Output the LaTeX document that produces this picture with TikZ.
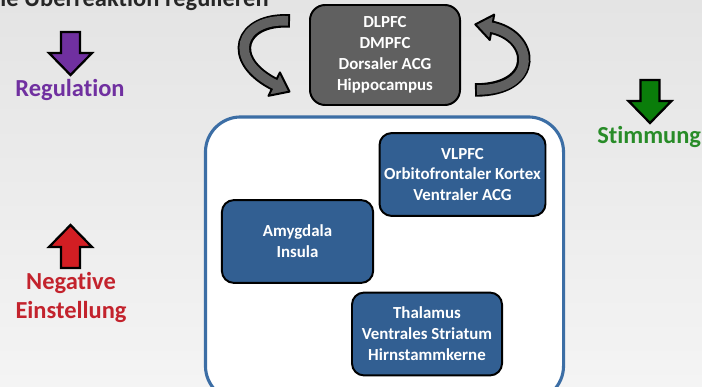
\documentclass[tikz,border=0pt]{standalone}
\usepackage{fontspec}
\setmainfont{Carlito}[Ligatures=NoCommon]
\usetikzlibrary{positioning}
\definecolor{bggrey}{RGB}{228,228,228}
\definecolor{bglight}{RGB}{244,244,244}
\definecolor{boxgrey}{RGB}{96,96,96}
\definecolor{boxblue}{RGB}{50,95,146}
\definecolor{frameblue}{RGB}{60,110,165}
\definecolor{regpurple}{RGB}{112,48,160}
\definecolor{moodgreen}{RGB}{40,140,40}
\definecolor{arrowgreen}{RGB}{10,125,10}
\definecolor{negred}{RGB}{195,35,45}
\definecolor{arrowred}{RGB}{210,30,35}
\tikzstyle{cortex} = [rectangle, rounded corners=0.38cm, minimum width=3.75cm, minimum height=2.5cm, align=center, draw=black, line width=1.4pt, fill=boxgrey, text=white, font=\bfseries\fontsize{12}{14.9}\selectfont]
\tikzstyle{region} = [rectangle, rounded corners=0.3cm, minimum width=3.75cm, minimum height=2.07cm, align=center, draw=black, line width=1.4pt, fill=boxblue, text=white, font=\bfseries\fontsize{12}{14.9}\selectfont]
\tikzstyle{frame} = [rectangle, rounded corners=0.88cm, draw=frameblue, line width=2.2pt, fill=white]
\tikzstyle{label} = [align=center, font=\bfseries\fontsize{17.4}{20.6}\selectfont, inner sep=0pt]
\tikzstyle{bandout} = [line width=9.6pt, draw=black]
\tikzstyle{bandin} = [line width=6.8pt, draw=boxgrey, shorten <=1.4pt]
\tikzstyle{bandhead} = [fill=boxgrey, draw=black, line width=1.4pt, line join=round]
\tikzstyle{blockarrow} = [draw=black, line width=1.6pt, line join=miter]
\tikzset{
  downarrow/.pic={\path[pic actions] (0,0) -- (-21.5,-22) -- (-9.5,-22) -- (-9.5,-43) -- (9.5,-43) -- (9.5,-22) -- (21.5,-22) -- cycle;}
}

\begin{document}
\begin{tikzpicture}[x=0.025cm, y=-0.025cm]

        % Hintergrund
        \useasboundingbox (0,0) rectangle (702,387);
        \clip (0,0) rectangle (702,387);
        \shade[top color=bggrey, bottom color=bglight] (0,0) rectangle (702,387);

        % Ueberschrift (oben abgeschnitten)
        \node (title) [anchor=base west, inner sep=0pt, text=black!85, font=\bfseries\fontsize{17.4}{20}\selectfont] at (0,7) {ie Überreaktion regulieren};

        % Kasten oben
        \node (cortex) [cortex] at (385,55) {DLPFC\\DMPFC\\Dorsaler ACG\\Hippocampus};

        % grosser Rahmen und Regionen
        \node (frame) [frame, minimum width=8.95cm, minimum height=7.1cm] at (384.5,259) {};
        \node (vlpfc) [region, minimum width=4.08cm] at (462.5,174.5) {VLPFC\\Orbitofrontaler Kortex\\Ventraler ACG};
        \node (amygdala) [region, minimum width=3.78cm] at (297.5,241.5) {Amygdala\\Insula};
        \node (thalamus) [region, minimum width=3.75cm] at (427,334) {Thalamus\\Ventrales Striatum\\Hirnstammkerne};

        % gebogene Pfeile links und rechts vom Kasten
        \draw [bandout] (290,21) .. controls (240,18) and (225,60) .. (276,85);
        \path [bandhead] (279.9,72.4) -- (289.5,91.6) -- (268.5,95.8) -- cycle;
        \draw [bandin] (290,21) .. controls (240,18) and (225,60) .. (276,85);

        \draw [bandout] (475,90) .. controls (540,90) and (535,35) .. (490,27);
        \path [bandhead] (494.2,14.6) -- (475.3,24.4) -- (489.8,40) -- cycle;
        \draw [bandin] (475,90) .. controls (540,90) and (535,35) .. (490,27);

        % Blockpfeile mit Beschriftung
        \pic [blockarrow, fill=regpurple] at (70.5,75) {downarrow};
        \node (regulation) [label, text=regpurple, anchor=base] at (70,97) {Regulation};

        \pic [blockarrow, fill=arrowgreen] at (650,123) {downarrow};
        \node (stimmung) [label, text=moodgreen, anchor=base west] at (597,143) {Stimmung};

        \pic [blockarrow, fill=arrowred, rotate=180] at (70.5,225) {downarrow};
        \node (negativ) [label, text=negred, anchor=base] at (71,318) {Negative\\Einstellung};

    \end{tikzpicture}
\end{document}
